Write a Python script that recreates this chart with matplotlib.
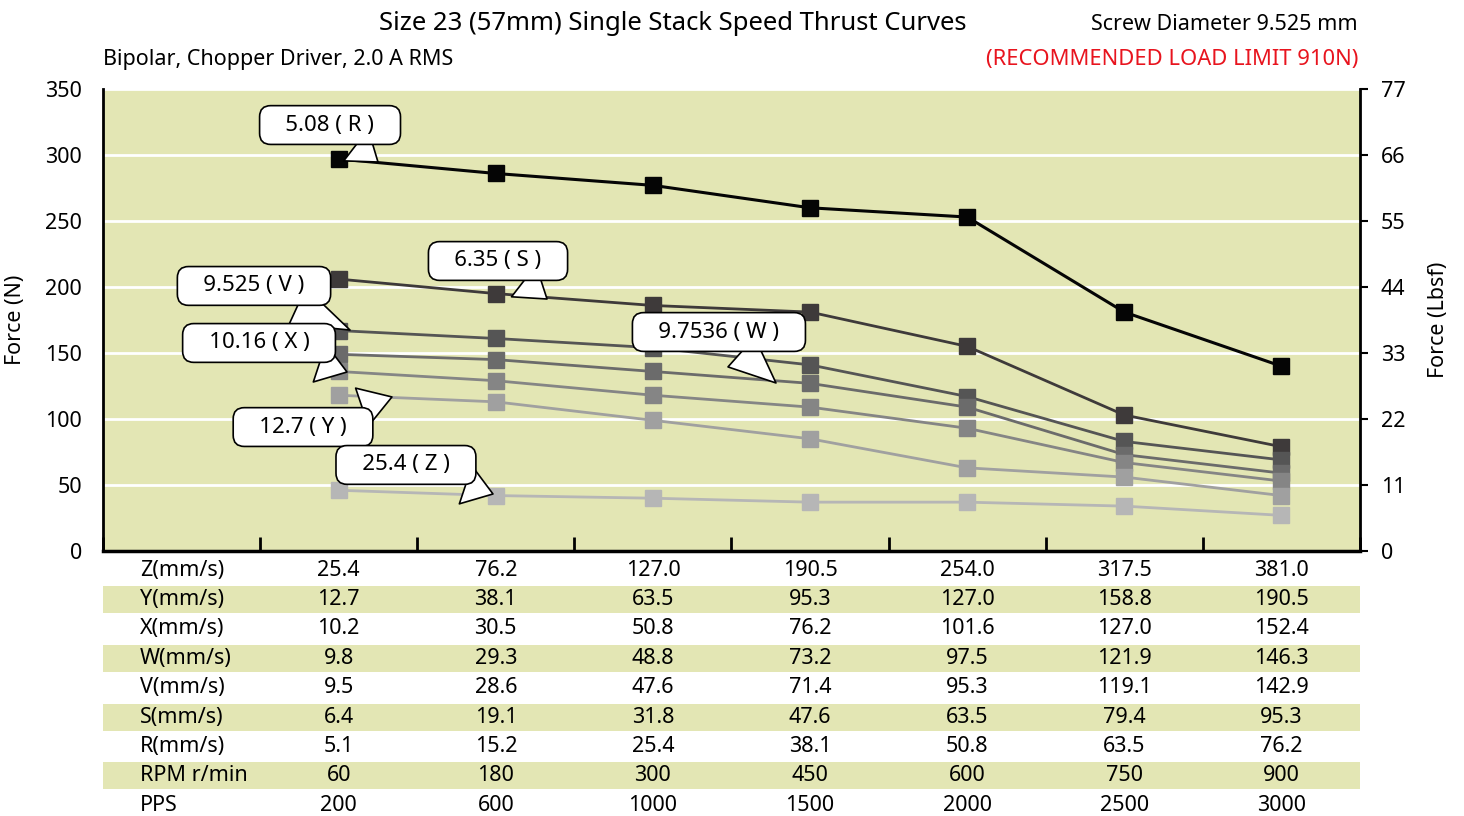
import matplotlib.pyplot as plt
import numpy as np

plt.rcParams['font.family'] = ['Noto Sans', 'DejaVu Sans']

# Force (N) for each lead screw
force_R = [297, 286, 277, 260, 253, 181, 140]
force_S = [206, 195, 186, 181, 155, 103, 79]
force_V = [167, 161, 154, 141, 117, 83, 69]
force_W = [149, 145, 136, 127, 109, 73, 59]
force_X = [136, 129, 118, 109, 93, 67, 53]
force_Y = [118, 113, 99, 85, 63, 56, 42]
force_Z = [46, 42, 40, 37, 37, 34, 27]

series_names = ['R', 'S', 'V', 'W', 'X', 'Y', 'Z']
series_leads = ['5.08', '6.35', '9.525', '9.7536', '10.16', '12.7', '25.4']
series_colors = ['#050505', '#3e3a3a', '#555555', '#6b6b6b', '#858585', '#a0a0a0', '#b6b6b6']

# speed table under the chart
row_labels = ['Z(mm/s)', 'Y(mm/s)', 'X(mm/s)', 'W(mm/s)', 'V(mm/s)',
              'S(mm/s)', 'R(mm/s)', 'RPM r/min', 'PPS']
row_values = [
    ['25.4', '76.2', '127.0', '190.5', '254.0', '317.5', '381.0'],
    ['12.7', '38.1', '63.5', '95.3', '127.0', '158.8', '190.5'],
    ['10.2', '30.5', '50.8', '76.2', '101.6', '127.0', '152.4'],
    ['9.8', '29.3', '48.8', '73.2', '97.5', '121.9', '146.3'],
    ['9.5', '28.6', '47.6', '71.4', '95.3', '119.1', '142.9'],
    ['6.4', '19.1', '31.8', '47.6', '63.5', '79.4', '95.3'],
    ['5.1', '15.2', '25.4', '38.1', '50.8', '63.5', '76.2'],
    ['60', '180', '300', '450', '600', '750', '900'],
    ['200', '600', '1000', '1500', '2000', '2500', '3000'],
]

# callout positions: (box x, box y, tip x, tip y) in data units
callouts = {
    'R': (1.445, 322.7, 1.75, 294.7),
    'S': (2.514, 219.7, 2.826, 190.9),
    'V': (0.961, 200.8, 1.572, 167.4),
    'W': (3.920, 165.9, 4.283, 127.3),
    'X': (0.993, 157.6, 1.553, 135.6),
    'Y': (1.273, 93.9, 1.839, 116.7),
    'Z': (1.928, 65.2, 2.482, 43.2),
}

all_forces = [force_R, force_S, force_V, force_W, force_X, force_Y, force_Z]
olive = '#e3e6b4'

W, H = 1464, 816
fig = plt.figure(figsize=(W / 100, H / 100), dpi=100)
ax = fig.add_axes([103 / W, 1 - 551 / H, (1360 - 103) / W, (551 - 89) / H])
ax.set_facecolor(olive)

x = np.arange(7) + 1.5
for name, forces, col in zip(series_names, all_forces, series_colors):
    lw = 2.2 if name == 'R' else 2.0
    ax.plot(x, forces, color=col, lw=lw, marker='s', markersize=11,
            zorder=3 if name != 'R' else 4)

ax.set_xlim(0, 8)
ax.set_ylim(0, 350)
ax.set_yticks(np.arange(0, 351, 50))
ax.set_xticks(np.arange(0, 9))
ax.set_xticklabels([])
ax.yaxis.grid(True, color='white', lw=2)
ax.set_axisbelow(True)
ax.tick_params(axis='y', length=0, labelsize=15.5, pad=15)
ax.tick_params(axis='x', direction='in', length=10, width=2)
for s in ['top', 'right']:
    ax.spines[s].set_visible(False)
ax.spines['left'].set_linewidth(2)
ax.spines['bottom'].set_linewidth(2.5)
ax.set_ylabel('Force (N)', fontsize=15.5, labelpad=14)

ax2 = ax.twinx()
ax2.set_ylim(0, 77)
ax2.set_yticks(np.arange(0, 78, 11))
ax2.tick_params(axis='y', direction='out', length=6, width=1.5, labelsize=15.5, pad=9)
for s in ['top', 'left', 'bottom']:
    ax2.spines[s].set_visible(False)
ax2.spines['right'].set_linewidth(2)
ax2.set_ylabel('Force (Lbsf)', fontsize=15.5, labelpad=16)

for name, lead in zip(series_names, series_leads):
    bx, by, tx, ty = callouts[name]
    ax.annotate(f'   {lead} ( {name} )   ', xy=(tx, ty), xytext=(bx, by),
                ha='center', va='center', fontsize=16, zorder=6,
                bbox=dict(boxstyle='round,pad=0.4,rounding_size=0.5',
                          fc='white', ec='black', lw=1.2),
                arrowprops=dict(arrowstyle='wedge,tail_width=1.8,shrink_factor=0.5',
                                fc='white', ec='black', lw=1.2,
                                shrinkA=0, shrinkB=0))

# table
tab = fig.add_axes([103 / W, 1 - 820 / H, (1360 - 103) / W, (820 - 555.3) / H])
tab.set_xlim(0, 8)
tab.set_ylim(9, 0)
tab.axis('off')
for i, (lab, vals) in enumerate(zip(row_labels, row_values)):
    if i % 2 == 1:
        tab.axhspan(i + 0.04, i + 0.96, color=olive, lw=0)
    tab.text(0.235, i + 0.5, lab, ha='left', va='center', fontsize=15.5)
    for j, v in enumerate(vals):
        tab.text(j + 1.5, i + 0.5, v, ha='center', va='center', fontsize=15.5)

fig.text(673 / W, 1 - 24 / H, 'Size 23 (57mm) Single Stack Speed Thrust Curves',
         ha='center', va='center', fontsize=18.5)
fig.text(103 / W, 1 - 60 / H, 'Bipolar, Chopper Driver, 2.0 A RMS',
         ha='left', va='center', fontsize=15.5)
fig.text(1358 / W, 1 - 25 / H, 'Screw Diameter 9.525 mm',
         ha='right', va='center', fontsize=15.5)
fig.text(1358 / W, 1 - 60 / H, '(RECOMMENDED LOAD LIMIT 910N)',
         ha='right', va='center', fontsize=15.8, color='#e8141e')

fig.savefig('out.png', dpi=100)
